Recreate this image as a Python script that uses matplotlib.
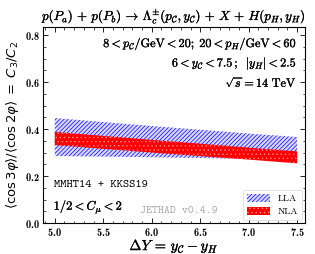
import matplotlib
matplotlib.use("Agg")
import matplotlib.pyplot as plt
import matplotlib.patheffects as pe
from matplotlib.ticker import MultipleLocator

plt.rcParams["mathtext.fontset"] = "cm"
plt.rcParams["font.family"] = "serif"
plt.rcParams["font.serif"] = ["cmb10", "DejaVu Serif"]
plt.rcParams["axes.formatter.use_mathtext"] = True
plt.rcParams["hatch.linewidth"] = 0.5

# rapidity interval values
dY = [5.0, 5.5, 6.0, 6.5, 7.0, 7.5]

# LLA band (upper / lower)
lla_hi = [0.447, 0.430, 0.413, 0.397, 0.381, 0.366]
lla_lo = [0.285, 0.283, 0.280, 0.277, 0.273, 0.270]

# NLA band (upper / lower)
nla_hi = [0.388, 0.371, 0.354, 0.338, 0.321, 0.305]
nla_lo = [0.332, 0.316, 0.300, 0.285, 0.270, 0.254]

bold = [pe.withStroke(linewidth=0.2, foreground="black")]

fig = plt.figure(figsize=(3.15, 2.54), dpi=100)
ax = fig.add_axes([0.137, 0.122, 0.831, 0.772])

ax.fill_between(dY, lla_lo, lla_hi, facecolor="#d8d8ff", edgecolor="blue",
                hatch="////////", linewidth=0.0, label="LLA")
ax.fill_between(dY, nla_lo, nla_hi, facecolor="red", edgecolor="#ff9090",
                hatch="....", linewidth=0.0, label="NLA")

ax.set_xlim(4.88, 7.58)
ax.set_ylim(0.0, 0.835)
ax.xaxis.set_major_locator(MultipleLocator(0.5))
ax.xaxis.set_minor_locator(MultipleLocator(0.1))
ax.yaxis.set_major_locator(MultipleLocator(0.2))
ax.yaxis.set_minor_locator(MultipleLocator(0.05))
ax.tick_params(which="both", direction="in", top=True, right=True, labelsize=7.5)
ax.tick_params(which="major", length=3.5, width=0.6, pad=2.5)
ax.tick_params(which="minor", length=1.8, width=0.5)
for s in ax.spines.values():
    s.set_linewidth(0.8)

ax.set_title(r"$p(P_a)\, +\, p(P_b)\, \to\, \Lambda_c^{\pm}(p_{\mathcal{C}}, y_{\mathcal{C}})\, +\, X\, +\, H(p_H, y_H)$",
             fontsize=9.4, pad=5, path_effects=bold)
ax.set_xlabel(r"$\mathbf{\Delta} Y\, =\, y_{\mathcal{C}} - y_H$", fontsize=10.5,
              labelpad=-1, path_effects=bold)
ax.set_ylabel(r"$\langle \cos 3\varphi \rangle / \langle \cos 2\varphi \rangle \; = \; C_3/C_2$",
              fontsize=9.5, labelpad=3, math_fontfamily="dejavusans")

ax.text(0.97, 0.918, r"$8 < p_{\mathcal{C}}/\mathrm{GeV} < 20;\; 20 < p_H/\mathrm{GeV} < 60$",
        transform=ax.transAxes, ha="right", va="center", fontsize=8.8, path_effects=bold)
ax.text(0.97, 0.816, r"$6 < y_{\mathcal{C}} < 7.5\,;\;\; |y_H| < 2.5$",
        transform=ax.transAxes, ha="right", va="center", fontsize=8.8, path_effects=bold)
ax.text(0.97, 0.714, r"$\sqrt{s} = 14\ \mathrm{TeV}$",
        transform=ax.transAxes, ha="right", va="center", fontsize=8.8, path_effects=bold)

ax.text(0.04, 0.195, "MMHT14 + KKSS19", transform=ax.transAxes,
        ha="left", va="center", fontsize=8.6, family="cmtt10")
ax.text(0.04, 0.085, r"$1/2 < C_{\mu} < 2$", transform=ax.transAxes,
        ha="left", va="center", fontsize=9, path_effects=bold)
ax.text(0.37, 0.06, "JETHAD v0.4.9", transform=ax.transAxes,
        ha="left", va="center", fontsize=8.2, color="#aaaaaa", family="cmtt10")

leg = ax.legend(loc="lower right", prop={"family": "cmr10", "size": 7},
                frameon=True, fancybox=True, handlelength=2.4, handleheight=0.9,
                borderpad=0.4, labelspacing=0.4, borderaxespad=0.3)
leg.get_frame().set_linewidth(0.5)

fig.savefig("out.png", dpi=100)
